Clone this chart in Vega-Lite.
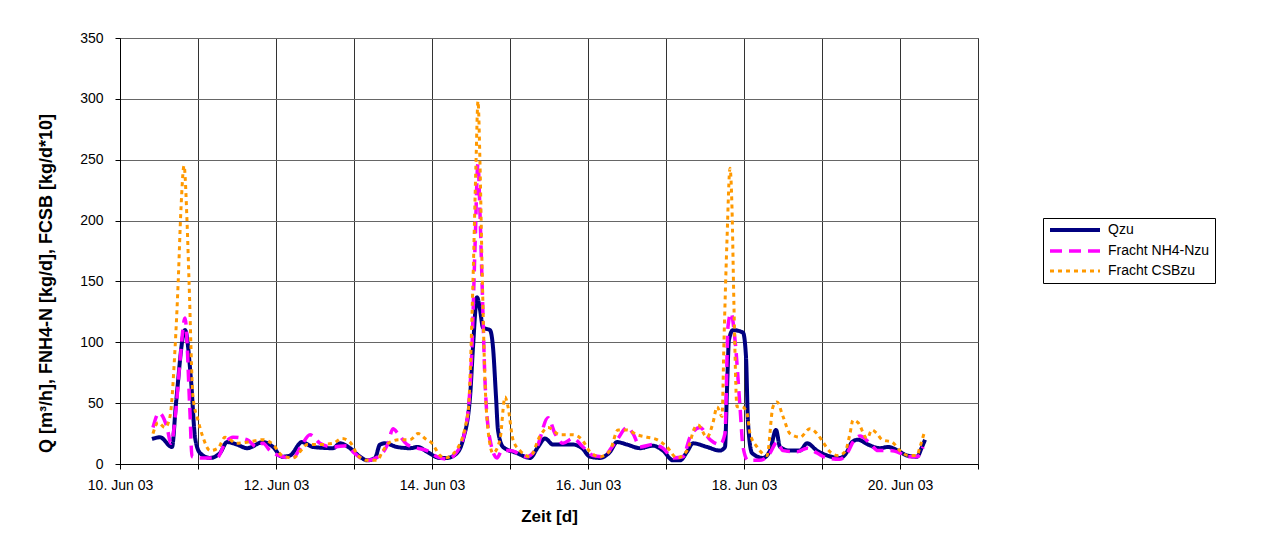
{
  "$schema": "https://vega.github.io/schema/vega-lite/v6.json",
  "width": 858,
  "height": 426,
  "autosize": {"type": "none"},
  "padding": {"left": 120, "top": 38, "right": 294, "bottom": 80},
  "background": "white",
  "data": {"values": [
    {"t":"2003-06-10T09:51","s":"Qzu","v":20.5},{"t":"2003-06-10T12:18","s":"Qzu","v":22},{"t":"2003-06-10T16:00","s":"Qzu","v":14},{"t":"2003-06-10T17:14","s":"Qzu","v":50},{"t":"2003-06-10T20:00","s":"Qzu","v":110},{"t":"2003-06-10T21:51","s":"Qzu","v":69},{"t":"2003-06-10T23:05","s":"Qzu","v":22},
    {"t":"2003-06-11T00:37","s":"Qzu","v":9},{"t":"2003-06-11T03:42","s":"Qzu","v":5},{"t":"2003-06-11T06:46","s":"Qzu","v":9},{"t":"2003-06-11T08:55","s":"Qzu","v":18},{"t":"2003-06-11T12:00","s":"Qzu","v":16},{"t":"2003-06-11T15:05","s":"Qzu","v":13},{"t":"2003-06-11T20:00","s":"Qzu","v":18},{"t":"2003-06-11T23:05","s":"Qzu","v":14},
    {"t":"2003-06-12T01:51","s":"Qzu","v":6},{"t":"2003-06-12T04:18","s":"Qzu","v":7},{"t":"2003-06-12T08:00","s":"Qzu","v":18},{"t":"2003-06-12T11:23","s":"Qzu","v":14},{"t":"2003-06-12T17:32","s":"Qzu","v":13},{"t":"2003-06-12T19:42","s":"Qzu","v":17},{"t":"2003-06-12T22:46","s":"Qzu","v":13},
    {"t":"2003-06-13T01:51","s":"Qzu","v":6},{"t":"2003-06-13T04:00","s":"Qzu","v":3},{"t":"2003-06-13T06:28","s":"Qzu","v":5},{"t":"2003-06-13T08:00","s":"Qzu","v":16},{"t":"2003-06-13T09:32","s":"Qzu","v":17},{"t":"2003-06-13T13:14","s":"Qzu","v":14},{"t":"2003-06-13T17:14","s":"Qzu","v":13},{"t":"2003-06-13T19:42","s":"Qzu","v":14},{"t":"2003-06-13T22:28","s":"Qzu","v":10},
    {"t":"2003-06-14T02:28","s":"Qzu","v":5},{"t":"2003-06-14T04:37","s":"Qzu","v":5},{"t":"2003-06-14T07:42","s":"Qzu","v":9},{"t":"2003-06-14T09:32","s":"Qzu","v":20},{"t":"2003-06-14T11:42","s":"Qzu","v":55},{"t":"2003-06-14T12:37","s":"Qzu","v":96},{"t":"2003-06-14T13:51","s":"Qzu","v":137},{"t":"2003-06-14T14:46","s":"Qzu","v":127},{"t":"2003-06-14T15:42","s":"Qzu","v":112},{"t":"2003-06-14T17:51","s":"Qzu","v":110},{"t":"2003-06-14T18:46","s":"Qzu","v":96},{"t":"2003-06-14T19:42","s":"Qzu","v":55},{"t":"2003-06-14T20:18","s":"Qzu","v":28},{"t":"2003-06-14T21:51","s":"Qzu","v":14},
    {"t":"2003-06-15T02:09","s":"Qzu","v":9},{"t":"2003-06-15T06:09","s":"Qzu","v":5},{"t":"2003-06-15T08:37","s":"Qzu","v":14},{"t":"2003-06-15T10:46","s":"Qzu","v":21},{"t":"2003-06-15T13:14","s":"Qzu","v":16},{"t":"2003-06-15T19:23","s":"Qzu","v":16},{"t":"2003-06-15T22:09","s":"Qzu","v":13},
    {"t":"2003-06-16T00:37","s":"Qzu","v":6},{"t":"2003-06-16T03:42","s":"Qzu","v":5},{"t":"2003-06-16T06:46","s":"Qzu","v":10},{"t":"2003-06-16T08:55","s":"Qzu","v":18},{"t":"2003-06-16T12:00","s":"Qzu","v":16},{"t":"2003-06-16T16:00","s":"Qzu","v":13},{"t":"2003-06-16T20:00","s":"Qzu","v":15},{"t":"2003-06-16T23:05","s":"Qzu","v":11},
    {"t":"2003-06-17T02:09","s":"Qzu","v":3},{"t":"2003-06-17T04:18","s":"Qzu","v":3},{"t":"2003-06-17T06:28","s":"Qzu","v":10},{"t":"2003-06-17T08:18","s":"Qzu","v":17},{"t":"2003-06-17T12:37","s":"Qzu","v":14},{"t":"2003-06-17T16:37","s":"Qzu","v":11},{"t":"2003-06-17T18:09","s":"Qzu","v":14},{"t":"2003-06-17T18:46","s":"Qzu","v":61},{"t":"2003-06-17T19:23","s":"Qzu","v":102},{"t":"2003-06-17T20:37","s":"Qzu","v":110},{"t":"2003-06-17T23:42","s":"Qzu","v":108},
    {"t":"2003-06-18T00:37","s":"Qzu","v":88},{"t":"2003-06-18T01:14","s":"Qzu","v":34},{"t":"2003-06-18T02:28","s":"Qzu","v":9},{"t":"2003-06-18T05:51","s":"Qzu","v":5},{"t":"2003-06-18T08:00","s":"Qzu","v":11},{"t":"2003-06-18T09:51","s":"Qzu","v":28},{"t":"2003-06-18T11:05","s":"Qzu","v":14},{"t":"2003-06-18T14:09","s":"Qzu","v":11},{"t":"2003-06-18T17:14","s":"Qzu","v":11},{"t":"2003-06-18T19:23","s":"Qzu","v":17},{"t":"2003-06-18T22:28","s":"Qzu","v":11},
    {"t":"2003-06-19T01:32","s":"Qzu","v":7},{"t":"2003-06-19T05:32","s":"Qzu","v":5},{"t":"2003-06-19T07:42","s":"Qzu","v":10},{"t":"2003-06-19T09:14","s":"Qzu","v":18},{"t":"2003-06-19T11:05","s":"Qzu","v":20},{"t":"2003-06-19T14:09","s":"Qzu","v":16},{"t":"2003-06-19T17:51","s":"Qzu","v":13},{"t":"2003-06-19T20:18","s":"Qzu","v":14},{"t":"2003-06-19T23:23","s":"Qzu","v":11},
    {"t":"2003-06-20T02:09","s":"Qzu","v":7},{"t":"2003-06-20T05:14","s":"Qzu","v":6},{"t":"2003-06-20T06:46","s":"Qzu","v":14},{"t":"2003-06-20T07:42","s":"Qzu","v":20},

    {"t":"2003-06-10T10:09","s":"Fracht NH4-Nzu","v":30},{"t":"2003-06-10T12:00","s":"Fracht NH4-Nzu","v":42},{"t":"2003-06-10T14:28","s":"Fracht NH4-Nzu","v":30},{"t":"2003-06-10T15:42","s":"Fracht NH4-Nzu","v":17},{"t":"2003-06-10T17:14","s":"Fracht NH4-Nzu","v":45},{"t":"2003-06-10T18:28","s":"Fracht NH4-Nzu","v":85},{"t":"2003-06-10T20:00","s":"Fracht NH4-Nzu","v":120},{"t":"2003-06-10T21:32","s":"Fracht NH4-Nzu","v":42},{"t":"2003-06-10T22:09","s":"Fracht NH4-Nzu","v":6},
    {"t":"2003-06-11T00:37","s":"Fracht NH4-Nzu","v":5},{"t":"2003-06-11T05:51","s":"Fracht NH4-Nzu","v":5},{"t":"2003-06-11T08:18","s":"Fracht NH4-Nzu","v":17},{"t":"2003-06-11T10:46","s":"Fracht NH4-Nzu","v":22},{"t":"2003-06-11T15:05","s":"Fracht NH4-Nzu","v":20},{"t":"2003-06-11T18:09","s":"Fracht NH4-Nzu","v":14},{"t":"2003-06-11T20:00","s":"Fracht NH4-Nzu","v":17},{"t":"2003-06-11T22:09","s":"Fracht NH4-Nzu","v":11},
    {"t":"2003-06-12T02:09","s":"Fracht NH4-Nzu","v":6},{"t":"2003-06-12T05:14","s":"Fracht NH4-Nzu","v":5},{"t":"2003-06-12T08:00","s":"Fracht NH4-Nzu","v":16},{"t":"2003-06-12T10:28","s":"Fracht NH4-Nzu","v":24},{"t":"2003-06-12T13:32","s":"Fracht NH4-Nzu","v":17},{"t":"2003-06-12T17:32","s":"Fracht NH4-Nzu","v":14},{"t":"2003-06-12T21:51","s":"Fracht NH4-Nzu","v":15},{"t":"2003-06-12T23:42","s":"Fracht NH4-Nzu","v":10},
    {"t":"2003-06-13T04:00","s":"Fracht NH4-Nzu","v":3},{"t":"2003-06-13T08:00","s":"Fracht NH4-Nzu","v":7},{"t":"2003-06-13T10:28","s":"Fracht NH4-Nzu","v":17},{"t":"2003-06-13T12:00","s":"Fracht NH4-Nzu","v":29},{"t":"2003-06-13T13:32","s":"Fracht NH4-Nzu","v":25},{"t":"2003-06-13T16:18","s":"Fracht NH4-Nzu","v":16},{"t":"2003-06-13T19:23","s":"Fracht NH4-Nzu","v":13},{"t":"2003-06-13T22:28","s":"Fracht NH4-Nzu","v":11},
    {"t":"2003-06-14T01:32","s":"Fracht NH4-Nzu","v":6},{"t":"2003-06-14T04:37","s":"Fracht NH4-Nzu","v":4},{"t":"2003-06-14T07:42","s":"Fracht NH4-Nzu","v":10},{"t":"2003-06-14T10:46","s":"Fracht NH4-Nzu","v":36},{"t":"2003-06-14T12:18","s":"Fracht NH4-Nzu","v":96},{"t":"2003-06-14T13:14","s":"Fracht NH4-Nzu","v":178},{"t":"2003-06-14T14:09","s":"Fracht NH4-Nzu","v":247},{"t":"2003-06-14T14:46","s":"Fracht NH4-Nzu","v":206},{"t":"2003-06-14T15:23","s":"Fracht NH4-Nzu","v":151},{"t":"2003-06-14T16:18","s":"Fracht NH4-Nzu","v":69},{"t":"2003-06-14T17:51","s":"Fracht NH4-Nzu","v":20},{"t":"2003-06-14T20:00","s":"Fracht NH4-Nzu","v":5},{"t":"2003-06-14T21:32","s":"Fracht NH4-Nzu","v":11},
    {"t":"2003-06-15T00:00","s":"Fracht NH4-Nzu","v":11},{"t":"2003-06-15T05:14","s":"Fracht NH4-Nzu","v":6},{"t":"2003-06-15T08:18","s":"Fracht NH4-Nzu","v":14},{"t":"2003-06-15T11:42","s":"Fracht NH4-Nzu","v":38},{"t":"2003-06-15T13:51","s":"Fracht NH4-Nzu","v":25},{"t":"2003-06-15T16:18","s":"Fracht NH4-Nzu","v":17},{"t":"2003-06-15T19:23","s":"Fracht NH4-Nzu","v":21},{"t":"2003-06-15T22:28","s":"Fracht NH4-Nzu","v":14},
    {"t":"2003-06-16T01:32","s":"Fracht NH4-Nzu","v":7},{"t":"2003-06-16T04:37","s":"Fracht NH4-Nzu","v":6},{"t":"2003-06-16T07:23","s":"Fracht NH4-Nzu","v":14},{"t":"2003-06-16T09:14","s":"Fracht NH4-Nzu","v":21},{"t":"2003-06-16T12:00","s":"Fracht NH4-Nzu","v":30},{"t":"2003-06-16T13:51","s":"Fracht NH4-Nzu","v":25},{"t":"2003-06-16T16:00","s":"Fracht NH4-Nzu","v":14},{"t":"2003-06-16T20:00","s":"Fracht NH4-Nzu","v":16},{"t":"2003-06-16T23:05","s":"Fracht NH4-Nzu","v":13},
    {"t":"2003-06-17T02:09","s":"Fracht NH4-Nzu","v":5},{"t":"2003-06-17T05:14","s":"Fracht NH4-Nzu","v":6},{"t":"2003-06-17T07:23","s":"Fracht NH4-Nzu","v":22},{"t":"2003-06-17T10:28","s":"Fracht NH4-Nzu","v":30},{"t":"2003-06-17T13:32","s":"Fracht NH4-Nzu","v":20},{"t":"2003-06-17T16:37","s":"Fracht NH4-Nzu","v":16},{"t":"2003-06-17T18:09","s":"Fracht NH4-Nzu","v":25},{"t":"2003-06-17T19:05","s":"Fracht NH4-Nzu","v":113},{"t":"2003-06-17T20:00","s":"Fracht NH4-Nzu","v":124},{"t":"2003-06-17T21:14","s":"Fracht NH4-Nzu","v":102},{"t":"2003-06-17T22:46","s":"Fracht NH4-Nzu","v":47},{"t":"2003-06-17T23:42","s":"Fracht NH4-Nzu","v":14},
    {"t":"2003-06-18T01:14","s":"Fracht NH4-Nzu","v":3},{"t":"2003-06-18T04:55","s":"Fracht NH4-Nzu","v":3},{"t":"2003-06-18T08:00","s":"Fracht NH4-Nzu","v":9},{"t":"2003-06-18T10:09","s":"Fracht NH4-Nzu","v":18},{"t":"2003-06-18T12:00","s":"Fracht NH4-Nzu","v":11},{"t":"2003-06-18T16:18","s":"Fracht NH4-Nzu","v":10},{"t":"2003-06-18T19:23","s":"Fracht NH4-Nzu","v":13},{"t":"2003-06-18T22:28","s":"Fracht NH4-Nzu","v":9},
    {"t":"2003-06-19T01:32","s":"Fracht NH4-Nzu","v":5},{"t":"2003-06-19T05:32","s":"Fracht NH4-Nzu","v":4},{"t":"2003-06-19T08:00","s":"Fracht NH4-Nzu","v":10},{"t":"2003-06-19T09:32","s":"Fracht NH4-Nzu","v":18},{"t":"2003-06-19T11:42","s":"Fracht NH4-Nzu","v":23},{"t":"2003-06-19T14:46","s":"Fracht NH4-Nzu","v":17},{"t":"2003-06-19T17:14","s":"Fracht NH4-Nzu","v":11},{"t":"2003-06-19T20:55","s":"Fracht NH4-Nzu","v":11},
    {"t":"2003-06-20T00:00","s":"Fracht NH4-Nzu","v":9},{"t":"2003-06-20T02:28","s":"Fracht NH4-Nzu","v":6},{"t":"2003-06-20T05:14","s":"Fracht NH4-Nzu","v":6},{"t":"2003-06-20T07:05","s":"Fracht NH4-Nzu","v":14},

    {"t":"2003-06-10T10:09","s":"Fracht CSBzu","v":25},{"t":"2003-06-10T11:42","s":"Fracht CSBzu","v":34},{"t":"2003-06-10T13:51","s":"Fracht CSBzu","v":30},{"t":"2003-06-10T15:23","s":"Fracht CSBzu","v":39},{"t":"2003-06-10T16:55","s":"Fracht CSBzu","v":94},{"t":"2003-06-10T17:51","s":"Fracht CSBzu","v":146},{"t":"2003-06-10T18:46","s":"Fracht CSBzu","v":210},{"t":"2003-06-10T19:42","s":"Fracht CSBzu","v":245},{"t":"2003-06-10T20:37","s":"Fracht CSBzu","v":200},{"t":"2003-06-10T21:14","s":"Fracht CSBzu","v":151},{"t":"2003-06-10T22:28","s":"Fracht CSBzu","v":55},
    {"t":"2003-06-11T00:00","s":"Fracht CSBzu","v":36},{"t":"2003-06-11T01:32","s":"Fracht CSBzu","v":22},{"t":"2003-06-11T03:42","s":"Fracht CSBzu","v":11},{"t":"2003-06-11T06:09","s":"Fracht CSBzu","v":13},{"t":"2003-06-11T08:18","s":"Fracht CSBzu","v":22},{"t":"2003-06-11T12:00","s":"Fracht CSBzu","v":17},{"t":"2003-06-11T15:23","s":"Fracht CSBzu","v":18},{"t":"2003-06-11T20:00","s":"Fracht CSBzu","v":20},{"t":"2003-06-11T23:05","s":"Fracht CSBzu","v":16},
    {"t":"2003-06-12T01:51","s":"Fracht CSBzu","v":7},{"t":"2003-06-12T05:14","s":"Fracht CSBzu","v":5},{"t":"2003-06-12T08:18","s":"Fracht CSBzu","v":13},{"t":"2003-06-12T09:32","s":"Fracht CSBzu","v":16},{"t":"2003-06-12T13:32","s":"Fracht CSBzu","v":16},{"t":"2003-06-12T17:32","s":"Fracht CSBzu","v":17},{"t":"2003-06-12T20:18","s":"Fracht CSBzu","v":21},{"t":"2003-06-12T22:46","s":"Fracht CSBzu","v":18},
    {"t":"2003-06-13T01:14","s":"Fracht CSBzu","v":7},{"t":"2003-06-13T04:00","s":"Fracht CSBzu","v":3},{"t":"2003-06-13T07:05","s":"Fracht CSBzu","v":3},{"t":"2003-06-13T08:55","s":"Fracht CSBzu","v":11},{"t":"2003-06-13T11:05","s":"Fracht CSBzu","v":18},{"t":"2003-06-13T14:09","s":"Fracht CSBzu","v":20},{"t":"2003-06-13T17:14","s":"Fracht CSBzu","v":20},{"t":"2003-06-13T19:42","s":"Fracht CSBzu","v":25},{"t":"2003-06-13T21:51","s":"Fracht CSBzu","v":21},
    {"t":"2003-06-14T00:00","s":"Fracht CSBzu","v":17},{"t":"2003-06-14T02:28","s":"Fracht CSBzu","v":7},{"t":"2003-06-14T04:00","s":"Fracht CSBzu","v":5},{"t":"2003-06-14T07:05","s":"Fracht CSBzu","v":10},{"t":"2003-06-14T11:05","s":"Fracht CSBzu","v":42},{"t":"2003-06-14T12:37","s":"Fracht CSBzu","v":151},{"t":"2003-06-14T13:32","s":"Fracht CSBzu","v":247},{"t":"2003-06-14T14:09","s":"Fracht CSBzu","v":298},{"t":"2003-06-14T14:46","s":"Fracht CSBzu","v":247},{"t":"2003-06-14T15:23","s":"Fracht CSBzu","v":165},{"t":"2003-06-14T16:18","s":"Fracht CSBzu","v":69},{"t":"2003-06-14T17:14","s":"Fracht CSBzu","v":28},{"t":"2003-06-14T18:46","s":"Fracht CSBzu","v":9},{"t":"2003-06-14T20:55","s":"Fracht CSBzu","v":20},{"t":"2003-06-14T22:28","s":"Fracht CSBzu","v":55},{"t":"2003-06-14T23:23","s":"Fracht CSBzu","v":47},
    {"t":"2003-06-15T00:55","s":"Fracht CSBzu","v":20},{"t":"2003-06-15T03:05","s":"Fracht CSBzu","v":11},{"t":"2003-06-15T06:09","s":"Fracht CSBzu","v":6},{"t":"2003-06-15T09:14","s":"Fracht CSBzu","v":23},{"t":"2003-06-15T11:42","s":"Fracht CSBzu","v":30},{"t":"2003-06-15T15:23","s":"Fracht CSBzu","v":24},{"t":"2003-06-15T19:23","s":"Fracht CSBzu","v":24},{"t":"2003-06-15T22:09","s":"Fracht CSBzu","v":20},
    {"t":"2003-06-16T00:37","s":"Fracht CSBzu","v":10},{"t":"2003-06-16T03:42","s":"Fracht CSBzu","v":6},{"t":"2003-06-16T06:46","s":"Fracht CSBzu","v":11},{"t":"2003-06-16T09:14","s":"Fracht CSBzu","v":28},{"t":"2003-06-16T12:00","s":"Fracht CSBzu","v":28},{"t":"2003-06-16T15:05","s":"Fracht CSBzu","v":24},{"t":"2003-06-16T18:09","s":"Fracht CSBzu","v":22},{"t":"2003-06-16T21:14","s":"Fracht CSBzu","v":20},
    {"t":"2003-06-17T00:18","s":"Fracht CSBzu","v":14},{"t":"2003-06-17T03:23","s":"Fracht CSBzu","v":5},{"t":"2003-06-17T06:28","s":"Fracht CSBzu","v":11},{"t":"2003-06-17T08:55","s":"Fracht CSBzu","v":30},{"t":"2003-06-17T09:51","s":"Fracht CSBzu","v":32},{"t":"2003-06-17T12:37","s":"Fracht CSBzu","v":22},{"t":"2003-06-17T14:28","s":"Fracht CSBzu","v":34},{"t":"2003-06-17T15:42","s":"Fracht CSBzu","v":47},{"t":"2003-06-17T17:14","s":"Fracht CSBzu","v":39},{"t":"2003-06-17T17:51","s":"Fracht CSBzu","v":102},{"t":"2003-06-17T18:46","s":"Fracht CSBzu","v":184},{"t":"2003-06-17T19:42","s":"Fracht CSBzu","v":243},{"t":"2003-06-17T20:18","s":"Fracht CSBzu","v":211},{"t":"2003-06-17T20:55","s":"Fracht CSBzu","v":129},{"t":"2003-06-17T21:51","s":"Fracht CSBzu","v":47},{"t":"2003-06-17T23:23","s":"Fracht CSBzu","v":47},
    {"t":"2003-06-18T00:55","s":"Fracht CSBzu","v":42},{"t":"2003-06-18T01:51","s":"Fracht CSBzu","v":25},{"t":"2003-06-18T04:00","s":"Fracht CSBzu","v":14},{"t":"2003-06-18T07:05","s":"Fracht CSBzu","v":7},{"t":"2003-06-18T08:55","s":"Fracht CSBzu","v":47},{"t":"2003-06-18T10:09","s":"Fracht CSBzu","v":51},{"t":"2003-06-18T12:00","s":"Fracht CSBzu","v":39},{"t":"2003-06-18T14:09","s":"Fracht CSBzu","v":25},{"t":"2003-06-18T17:14","s":"Fracht CSBzu","v":22},{"t":"2003-06-18T20:18","s":"Fracht CSBzu","v":29},{"t":"2003-06-18T22:28","s":"Fracht CSBzu","v":25},
    {"t":"2003-06-19T00:18","s":"Fracht CSBzu","v":18},{"t":"2003-06-19T02:28","s":"Fracht CSBzu","v":10},{"t":"2003-06-19T04:55","s":"Fracht CSBzu","v":7},{"t":"2003-06-19T07:05","s":"Fracht CSBzu","v":10},{"t":"2003-06-19T08:37","s":"Fracht CSBzu","v":25},{"t":"2003-06-19T09:32","s":"Fracht CSBzu","v":36},{"t":"2003-06-19T11:05","s":"Fracht CSBzu","v":34},{"t":"2003-06-19T13:51","s":"Fracht CSBzu","v":21},{"t":"2003-06-19T15:23","s":"Fracht CSBzu","v":28},{"t":"2003-06-19T16:55","s":"Fracht CSBzu","v":25},{"t":"2003-06-19T18:28","s":"Fracht CSBzu","v":20},{"t":"2003-06-19T21:32","s":"Fracht CSBzu","v":18},
    {"t":"2003-06-20T00:00","s":"Fracht CSBzu","v":11},{"t":"2003-06-20T02:28","s":"Fracht CSBzu","v":7},{"t":"2003-06-20T05:14","s":"Fracht CSBzu","v":7},{"t":"2003-06-20T06:09","s":"Fracht CSBzu","v":14},{"t":"2003-06-20T07:23","s":"Fracht CSBzu","v":25}
  ]},
  "mark": {"type": "line", "interpolate": "monotone", "clip": true},
  "encoding": {
    "x": {
      "field": "t", "type": "temporal",
      "scale": {"domain": [{"year": 2003, "month": 6, "date": 10}, {"year": 2003, "month": 6, "date": 21}]},
      "axis": {
        "title": "Zeit [d]",
        "tickCount": {"interval": "day", "step": 1},
        "labelExpr": "date(datum.value) % 2 == 0 ? timeFormat(datum.value, '%d. %b %y') : ''",
        "labelOverlap": false,
        "labelFlush": false,
        "labelPadding": 9,
        "labelFontSize": 14,
        "tickSize": 5,
        "gridColor": "#333",
        "titleFontSize": 17,
        "titleFontWeight": "bold",
        "titlePadding": 16
      }
    },
    "y": {
      "field": "v", "type": "quantitative",
      "scale": {"domain": [0, 350], "nice": false},
      "axis": {
        "title": "Q [m³/h], FNH4-N [kg/d], FCSB [kg/d*10]",
        "values": [0, 50, 100, 150, 200, 250, 300, 350],
        "labelPadding": 12,
        "labelFontSize": 14,
        "tickSize": 5,
        "gridColor": "#666",
        "titleFontSize": 18,
        "titleFontWeight": "bold",
        "titleBaseline": "middle",
        "titleX": -74,
        "titleY": 245
      }
    },
    "color": {
      "field": "s", "type": "nominal",
      "scale": {"domain": ["Qzu", "Fracht NH4-Nzu", "Fracht CSBzu"], "range": ["#000080", "#FF00FF", "#FF9900"]},
      "legend": {"title": null}
    },
    "strokeDash": {
      "field": "s", "type": "nominal",
      "scale": {"domain": ["Qzu", "Fracht NH4-Nzu", "Fracht CSBzu"], "range": [[1, 0], [12, 7], [4, 4]]},
      "legend": {"title": null}
    },
    "strokeWidth": {
      "field": "s", "type": "nominal",
      "scale": {"domain": ["Qzu", "Fracht NH4-Nzu", "Fracht CSBzu"], "range": [4, 3, 3.5]},
      "legend": {"title": null}
    }
  },
  "config": {
    "font": "Liberation Sans",
    "view": {"stroke": "#555"},
    "axis": {
      "labelFont": "Liberation Sans",
      "titleFont": "Liberation Sans",
      "labelColor": "#000",
      "titleColor": "#000",
      "domainColor": "#000",
      "tickColor": "#000",
      "gridOpacity": 1,
      "gridWidth": 1
    },
    "legend": {
      "orient": "none",
      "legendX": 923,
      "legendY": 180,
      "symbolType": "M-1,0H9",
      "symbolSize": 100,
      "labelFont": "Liberation Sans",
      "labelFontSize": 14,
      "labelColor": "#000",
      "labelOffset": 46,
      "rowPadding": 6,
      "padding": 5,
      "strokeColor": "#000",
      "fillColor": "#fff"
    }
  }
}
